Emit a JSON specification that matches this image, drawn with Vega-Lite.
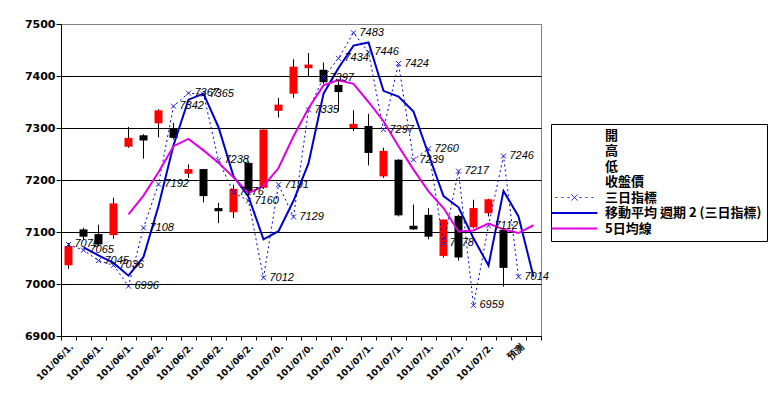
{
"$schema": "https://vega.github.io/schema/vega-lite/v6.json",
"width": 480, "height": 312,
"autosize": {"type": "none"},
"padding": {"left": 61, "top": 24, "right": 230, "bottom": 62},
"background": "white",
"config": {"view": {"stroke": "#808080", "strokeWidth": 1}, "font": "Liberation Sans"},
"datasets": {
"candles": [
{"date":"101/06/12","open":7036,"high":7079,"low":7029,"close":7073},
{"date":"101/06/13","open":7105,"high":7108,"low":7085,"close":7091},
{"date":"101/06/14","open":7096,"high":7114,"low":7073,"close":7076},
{"date":"101/06/15","open":7094,"high":7166,"low":7087,"close":7155},
{"date":"101/06/18","open":7264,"high":7302,"low":7262,"close":7281},
{"date":"101/06/19","open":7286,"high":7288,"low":7241,"close":7276},
{"date":"101/06/20","open":7309,"high":7336,"low":7282,"close":7334},
{"date":"101/06/21","open":7299,"high":7310,"low":7278,"close":7281},
{"date":"101/06/22","open":7212,"high":7230,"low":7204,"close":7221},
{"date":"101/06/25","open":7221,"high":7221,"low":7157,"close":7169},
{"date":"101/06/26","open":7146,"high":7156,"low":7117,"close":7140},
{"date":"101/06/27","open":7138,"high":7191,"low":7127,"close":7183},
{"date":"101/06/28","open":7233,"high":7236,"low":7170,"close":7177},
{"date":"101/06/29","open":7185,"high":7297,"low":7183,"close":7297},
{"date":"101/07/02","open":7333,"high":7358,"low":7320,"close":7345},
{"date":"101/07/03","open":7366,"high":7432,"low":7358,"close":7418},
{"date":"101/07/04","open":7415,"high":7444,"low":7399,"close":7422},
{"date":"101/07/05","open":7412,"high":7426,"low":7385,"close":7388},
{"date":"101/07/06","open":7383,"high":7393,"low":7332,"close":7369},
{"date":"101/07/09","open":7300,"high":7334,"low":7294,"close":7308},
{"date":"101/07/10","open":7304,"high":7327,"low":7228,"close":7252},
{"date":"101/07/11","open":7207,"high":7262,"low":7204,"close":7256},
{"date":"101/07/12","open":7239,"high":7240,"low":7130,"close":7132},
{"date":"101/07/13","open":7112,"high":7153,"low":7104,"close":7105},
{"date":"101/07/16","open":7133,"high":7146,"low":7086,"close":7091},
{"date":"101/07/17","open":7054,"high":7124,"low":7051,"close":7124},
{"date":"101/07/18","open":7131,"high":7133,"low":7045,"close":7051},
{"date":"101/07/19","open":7109,"high":7162,"low":7107,"close":7146},
{"date":"101/07/20","open":7136,"high":7164,"low":7130,"close":7163},
{"date":"101/07/23","open":7104,"high":7104,"low":6995,"close":7031}
],
"lines": [
{"date":"101/06/12","series":"三日指標","value":7076},
{"date":"101/06/13","series":"三日指標","value":7065},
{"date":"101/06/14","series":"三日指標","value":7045},
{"date":"101/06/15","series":"三日指標","value":7036},
{"date":"101/06/18","series":"三日指標","value":6996},
{"date":"101/06/19","series":"三日指標","value":7108},
{"date":"101/06/20","series":"三日指標","value":7192},
{"date":"101/06/21","series":"三日指標","value":7342},
{"date":"101/06/22","series":"三日指標","value":7367},
{"date":"101/06/25","series":"三日指標","value":7365},
{"date":"101/06/26","series":"三日指標","value":7238},
{"date":"101/06/27","series":"三日指標","value":7176},
{"date":"101/06/28","series":"三日指標","value":7160},
{"date":"101/06/29","series":"三日指標","value":7012},
{"date":"101/07/02","series":"三日指標","value":7191},
{"date":"101/07/03","series":"三日指標","value":7129},
{"date":"101/07/04","series":"三日指標","value":7335},
{"date":"101/07/05","series":"三日指標","value":7397},
{"date":"101/07/06","series":"三日指標","value":7434},
{"date":"101/07/09","series":"三日指標","value":7483},
{"date":"101/07/10","series":"三日指標","value":7446},
{"date":"101/07/11","series":"三日指標","value":7297},
{"date":"101/07/12","series":"三日指標","value":7424},
{"date":"101/07/13","series":"三日指標","value":7239},
{"date":"101/07/16","series":"三日指標","value":7260},
{"date":"101/07/17","series":"三日指標","value":7078},
{"date":"101/07/18","series":"三日指標","value":7217},
{"date":"101/07/19","series":"三日指標","value":6959},
{"date":"101/07/20","series":"三日指標","value":7112},
{"date":"101/07/23","series":"三日指標","value":7246},
{"date":"預測","series":"三日指標","value":7014},
{"date":"101/06/13","series":"移動平均 週期 2 (三日指標)","value":7070.5},
{"date":"101/06/14","series":"移動平均 週期 2 (三日指標)","value":7055},
{"date":"101/06/15","series":"移動平均 週期 2 (三日指標)","value":7040.5},
{"date":"101/06/18","series":"移動平均 週期 2 (三日指標)","value":7016},
{"date":"101/06/19","series":"移動平均 週期 2 (三日指標)","value":7052},
{"date":"101/06/20","series":"移動平均 週期 2 (三日指標)","value":7150},
{"date":"101/06/21","series":"移動平均 週期 2 (三日指標)","value":7267},
{"date":"101/06/22","series":"移動平均 週期 2 (三日指標)","value":7354.5},
{"date":"101/06/25","series":"移動平均 週期 2 (三日指標)","value":7366},
{"date":"101/06/26","series":"移動平均 週期 2 (三日指標)","value":7301.5},
{"date":"101/06/27","series":"移動平均 週期 2 (三日指標)","value":7207},
{"date":"101/06/28","series":"移動平均 週期 2 (三日指標)","value":7168},
{"date":"101/06/29","series":"移動平均 週期 2 (三日指標)","value":7086},
{"date":"101/07/02","series":"移動平均 週期 2 (三日指標)","value":7101.5},
{"date":"101/07/03","series":"移動平均 週期 2 (三日指標)","value":7160},
{"date":"101/07/04","series":"移動平均 週期 2 (三日指標)","value":7232},
{"date":"101/07/05","series":"移動平均 週期 2 (三日指標)","value":7366},
{"date":"101/07/06","series":"移動平均 週期 2 (三日指標)","value":7415.5},
{"date":"101/07/09","series":"移動平均 週期 2 (三日指標)","value":7458.5},
{"date":"101/07/10","series":"移動平均 週期 2 (三日指標)","value":7464.5},
{"date":"101/07/11","series":"移動平均 週期 2 (三日指標)","value":7371.5},
{"date":"101/07/12","series":"移動平均 週期 2 (三日指標)","value":7360.5},
{"date":"101/07/13","series":"移動平均 週期 2 (三日指標)","value":7331.5},
{"date":"101/07/16","series":"移動平均 週期 2 (三日指標)","value":7249.5},
{"date":"101/07/17","series":"移動平均 週期 2 (三日指標)","value":7169},
{"date":"101/07/18","series":"移動平均 週期 2 (三日指標)","value":7147.5},
{"date":"101/07/19","series":"移動平均 週期 2 (三日指標)","value":7088},
{"date":"101/07/20","series":"移動平均 週期 2 (三日指標)","value":7035.5},
{"date":"101/07/23","series":"移動平均 週期 2 (三日指標)","value":7179},
{"date":"預測","series":"移動平均 週期 2 (三日指標)","value":7130},
{"date":"預測2","series":"移動平均 週期 2 (三日指標)","value":7014},
{"date":"101/06/18","series":"5日均線","value":7134},
{"date":"101/06/19","series":"5日均線","value":7170},
{"date":"101/06/20","series":"5日均線","value":7215},
{"date":"101/06/21","series":"5日均線","value":7265},
{"date":"101/06/22","series":"5日均線","value":7279},
{"date":"101/06/25","series":"5日均線","value":7257},
{"date":"101/06/26","series":"5日均線","value":7233},
{"date":"101/06/27","series":"5日均線","value":7205},
{"date":"101/06/28","series":"5日均線","value":7175},
{"date":"101/06/29","series":"5日均線","value":7188},
{"date":"101/07/02","series":"5日均線","value":7223},
{"date":"101/07/03","series":"5日均線","value":7284},
{"date":"101/07/04","series":"5日均線","value":7338},
{"date":"101/07/05","series":"5日均線","value":7382},
{"date":"101/07/06","series":"5日均線","value":7392},
{"date":"101/07/09","series":"5日均線","value":7385},
{"date":"101/07/10","series":"5日均線","value":7350},
{"date":"101/07/11","series":"5日均線","value":7313},
{"date":"101/07/12","series":"5日均線","value":7265},
{"date":"101/07/13","series":"5日均線","value":7220},
{"date":"101/07/16","series":"5日均線","value":7178},
{"date":"101/07/17","series":"5日均線","value":7146},
{"date":"101/07/18","series":"5日均線","value":7101},
{"date":"101/07/19","series":"5日均線","value":7103},
{"date":"101/07/20","series":"5日均線","value":7116},
{"date":"101/07/23","series":"5日均線","value":7105},
{"date":"預測","series":"5日均線","value":7098},
{"date":"預測2","series":"5日均線","value":7113}
]
},
"encoding": {
"x": {"field": "date", "type": "nominal",
 "scale": {"domain": ["101/06/12","101/06/13","101/06/14","101/06/15","101/06/18","101/06/19","101/06/20","101/06/21","101/06/22","101/06/25","101/06/26","101/06/27","101/06/28","101/06/29","101/07/02","101/07/03","101/07/04","101/07/05","101/07/06","101/07/09","101/07/10","101/07/11","101/07/12","101/07/13","101/07/16","101/07/17","101/07/18","101/07/19","101/07/20","101/07/23","預測","預測2"], "paddingInner": 0, "paddingOuter": 0},
 "axis": {"title": null, "labelAngle": -45, "tickBand": "extent", "tickSize": 4, "tickColor": "black", "domainColor": "black", "labelColor": "black", "labelFont": "DejaVu Sans", "labelFontSize": 9, "labelFontWeight": "bold", "labelPadding": 2, "labelLimit": 80, "grid": false,
  "labelExpr": "indexof(domain('x'), datum.value) % 2 == 0 ? (length(datum.value) > 8 ? slice(datum.value, 0, 8) + '.' : datum.value) : ''"}}
},
"layer": [
{"data": {"name": "candles"}, "mark": {"type": "rule", "color": "black", "strokeWidth": 1},
 "encoding": {"y": {"field": "low", "type": "quantitative", "scale": {"domain": [6900, 7500], "nice": false, "zero": false},
   "axis": {"title": null, "values": [6900,7000,7100,7200,7300,7400,7500], "format": "d", "grid": true, "gridColor": {"condition": {"test": "datum.value == 7500", "value": "#808080"}, "value": "black"}, "gridWidth": 1, "tickSize": 5, "tickColor": "black", "domainColor": "black", "labelColor": "black", "labelFont": "DejaVu Sans", "labelFontSize": 11, "labelFontWeight": "bold", "labelPadding": 1}},
  "y2": {"field": "high"}}},
{"data": {"name": "candles"}, "mark": {"type": "bar", "width": 8},
 "encoding": {"y": {"field": "open", "type": "quantitative"}, "y2": {"field": "close"},
  "color": {"condition": {"test": "datum.close > datum.open", "value": "#FF0000"}, "value": "#000000"}}},
{"data": {"name": "lines"}, "transform": [{"filter": "datum.series == '三日指標'"}],
 "mark": {"type": "line", "strokeWidth": 1, "strokeDash": [2, 3]},
 "encoding": {"y": {"field": "value", "type": "quantitative"},
  "color": {"field": "series", "type": "nominal",
   "scale": {"domain": ["開","高","低","收盤價","三日指標","移動平均 週期 2 (三日指標)","5日均線"], "range": ["rgba(0,0,0,0)","rgba(0,0,0,0)","rgba(0,0,0,0)","rgba(0,0,0,0)","#0000CC","#0000CC","#E000E0"]},
   "legend": {"title": null, "orient": "none", "legendX": 490, "legendY": 100, "fillColor": "white", "strokeColor": "black", "padding": 5,
    "labelFont": "Noto Sans CJK TC", "labelFontSize": 13, "labelFontWeight": "bold", "labelColor": "black", "labelLimit": 300,
    "symbolSize": 100, "symbolStrokeWidth": 2, "symbolOffset": 12, "labelOffset": 24, "rowPadding": 1.5,
    "encode": {"symbols": {"update": {
      "shape": {"signal": "datum.value === '三日指標' ? 'M-3.8,0L-3.4,0M-2.6,0L-2.2,0M-1.4,0L-1,0M-0.6,-0.6L0.6,0.6M-0.6,0.6L0.6,-0.6M1,0L1.4,0M2.2,0L2.6,0M3.4,0L3.8,0' : 'M-4.6,0L4.6,0'"},
      "strokeWidth": {"signal": "datum.value === '三日指標' ? 1 : 2"},
      "strokeDash": {"value": [1, 0]}}}}}}}},
{"data": {"name": "lines"}, "transform": [{"filter": "datum.series == '三日指標'"}],
 "mark": {"type": "point", "shape": "M-1,-1L1,1M-1,1L1,-1", "filled": false, "size": 25, "strokeWidth": 1, "color": "#2020C0", "opacity": 1},
 "encoding": {"y": {"field": "value", "type": "quantitative"}}},
{"data": {"name": "lines"}, "transform": [{"filter": "datum.series != '三日指標'"}],
 "mark": {"type": "line", "strokeWidth": 2},
 "encoding": {"y": {"field": "value", "type": "quantitative"}, "color": {"field": "series", "type": "nominal"}}},
{"data": {"name": "lines"}, "transform": [{"filter": "datum.series == '三日指標'"}],
 "mark": {"type": "text", "align": "left", "baseline": "middle", "dx": 6, "font": "Liberation Sans", "fontSize": 11, "fontStyle": "italic", "color": "black"},
 "encoding": {"y": {"field": "value", "type": "quantitative"}, "text": {"field": "value", "type": "quantitative"}}}
]
}
